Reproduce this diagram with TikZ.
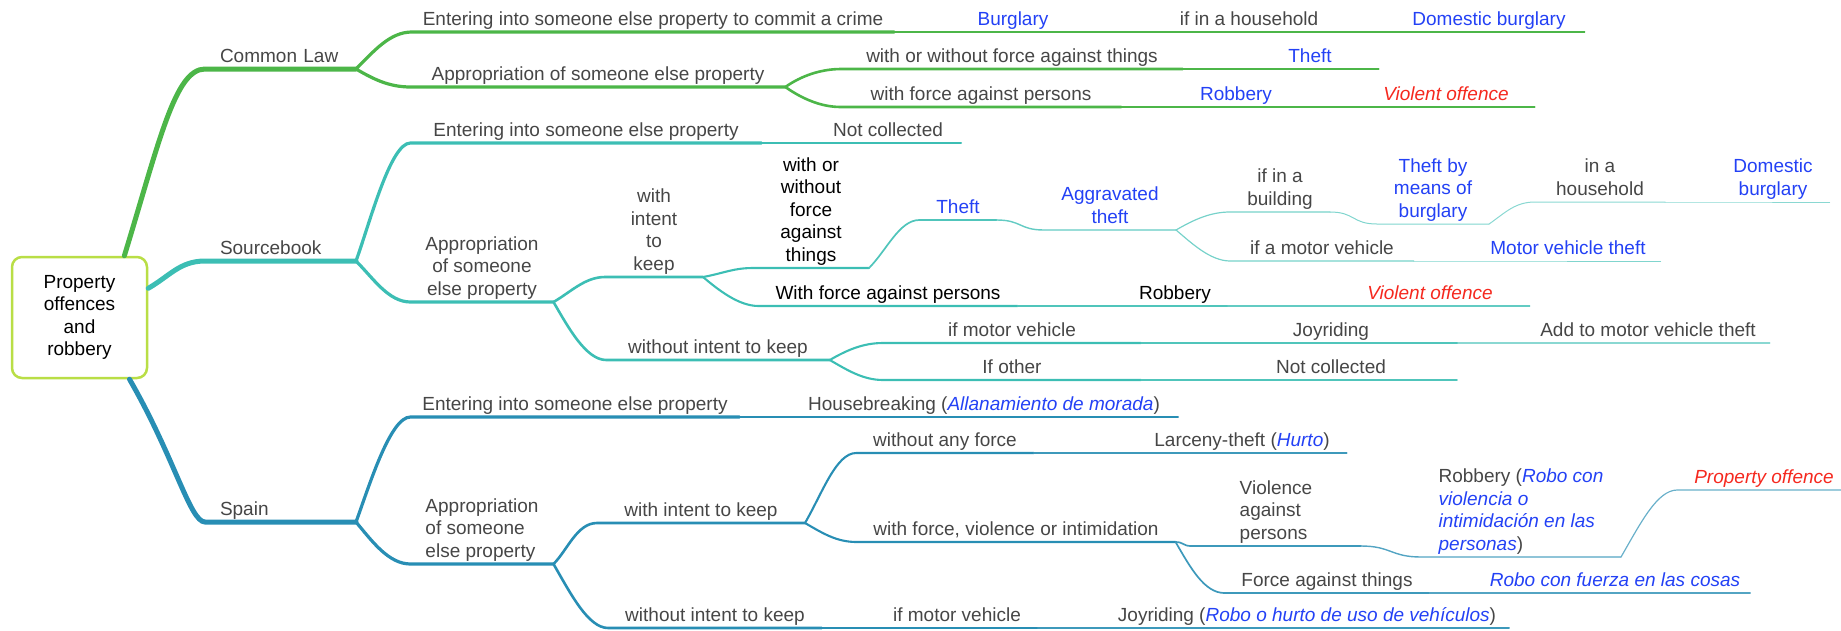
\documentclass[tikz,border=0pt]{standalone}
\usepackage{fontspec}
\setmainfont{Liberation Sans}
\usepackage{xcolor}
\usepackage{tikz}

\definecolor{clg}{RGB}{76,182,72}
\definecolor{sbt}{RGB}{60,190,180}
\definecolor{spb}{RGB}{40,142,180}
\definecolor{rootc}{RGB}{185,222,70}
\definecolor{txtgray}{RGB}{70,70,70}
\definecolor{txtblue}{RGB}{35,65,245}
\definecolor{txtred}{RGB}{245,40,30}

\newcommand{\mmfont}{\fontsize{19}{22.5}\selectfont}
\newcommand{\mlc}[1]{\begin{tabular}[b]{@{}c@{}}#1\end{tabular}}
\newcommand{\mll}[1]{\begin{tabular}[b]{@{}l@{}}#1\end{tabular}}
\newcommand{\spn}[1]{\textcolor{txtblue}{\itshape #1}}

\begin{document}
\begin{tikzpicture}[x=1pt, y=1pt, line cap=round,
  topic/.style={font=\mmfont, text=txtgray, anchor=south, inner xsep=17pt, inner ysep=0pt, outer sep=0pt, text depth=7pt},
  bluetxt/.style={topic, text=txtblue},
  blacktxt/.style={topic, text=black},
  redtxt/.style={topic, text=txtred, font=\mmfont\itshape},
  main/.style={topic, anchor=south west, text width=121pt, inner xsep=15pt, align=left},
  l0/.style={line width=5pt},
  l1/.style={line width=4.5pt},
  l2/.style={line width=3.2pt},
  l3/.style={line width=2.6pt},
  l4/.style={line width=2.1pt},
  l5/.style={line width=1.7pt},
  l6/.style={line width=1.4pt},
  l7/.style={line width=1.2pt},
  l8/.style={line width=1pt}
]
\useasboundingbox (0,0) rectangle (1841,-630);

% centre topic
\node[draw=rootc, line width=2.5pt, rounded corners=10pt, fill=white, minimum width=135pt, minimum height=121pt, align=center, font=\mmfont, text=black] (rt) at (79.5,-317.5) {Property\\offences\\and\\robbery};

% Common Law
\node[main] (cl) at (205,-69) {Common Law};
\node[topic, inner xsep=11pt] (clent) at (653,-32) {Entering into someone else property to commit a crime};
\node[bluetxt] (clburg) at (1013,-32) {Burglary};
\node[topic] (clhh) at (1249,-32) {if in a household};
\node[bluetxt, inner xsep=19pt] (cldb) at (1489,-32) {Domestic burglary};
\node[topic, inner xsep=21pt] (clapp) at (598,-87) {Appropriation of someone else property};
\node[topic, inner xsep=25pt] (clwwf) at (1012,-69) {with or without force against things};
\node[bluetxt, inner xsep=47pt] (clthe) at (1310,-69) {Theft};
\node[topic, inner xsep=30pt] (clwfp) at (981,-107) {with force against persons};
\node[bluetxt] (clrob) at (1236,-107) {Robbery};
\node[redtxt, inner xsep=26pt] (clvio) at (1446,-107) {Violent offence};

% Sourcebook
\node[main] (sb) at (205,-261) {Sourcebook};
\node[topic, inner xsep=23pt] (sbent) at (586,-143) {Entering into someone else property};
\node[topic, inner xsep=18pt] (sbnc) at (888,-143) {Not collected};
\node[topic, inner xsep=15pt] (sbapp) at (482,-302) {\mlc{Appropriation\\of someone\\else property}};
\node[topic, minimum width=98pt] (sbwik) at (654,-277) {\mlc{with\\intent\\to\\keep}};
\node[blacktxt, minimum width=116pt] (sbwwf) at (811,-268) {\mlc{with or\\without\\force\\against\\things}};
\node[bluetxt, minimum width=62pt] (sbthe) at (958,-220) {Theft};
\node[bluetxt, minimum width=132pt] (sbagg) at (1110,-230) {\mlc{Aggravated\\theft}};
\node[topic, minimum width=100pt] (sbbld) at (1280,-212) {\mlc{if in a\\building}};
\node[bluetxt, minimum width=106pt] (sbtbm) at (1433,-224) {\mlc{Theft by\\means of\\burglary}};
\node[topic, minimum width=130pt] (sbhh) at (1600,-202) {\mlc{in a\\household}};
\node[bluetxt, minimum width=104pt] (sbdb) at (1773,-202) {\mlc{Domestic\\burglary}};
\node[topic, inner xsep=20pt] (sbmv) at (1322,-261) {if a motor vehicle};
\node[bluetxt, inner xsep=15pt] (sbmvt) at (1568,-261) {Motor vehicle theft};
\node[blacktxt] (sbwfp) at (888,-306) {With force against persons};
\node[blacktxt] (sbrob) at (1175,-306) {Robbery};
\node[redtxt, inner xsep=37pt] (sbvio) at (1430,-306) {Violent offence};
\node[topic, inner xsep=22pt] (sbwok) at (718,-360) {without intent to keep};
\node[topic, minimum width=258pt] (sbimv) at (1012,-343) {if motor vehicle};
\node[topic, minimum width=254pt] (sbjoy) at (1331,-343) {Joyriding};
\node[topic, inner xsep=14pt] (sbadd) at (1648,-343) {Add to motor vehicle theft};
\node[topic, minimum width=258pt] (sbio) at (1012,-380) {If other};
\node[topic, minimum width=252pt] (sbnc2) at (1331,-380) {Not collected};

% Spain
\node[main] (sp) at (205,-522) {Spain};
\node[topic, inner xsep=12pt] (spent) at (575,-417) {Entering into someone else property};
\node[topic, inner xsep=18pt] (sphb) at (984,-417) {Housebreaking (\spn{Allanamiento de morada})};
\node[topic, inner xsep=15pt] (spapp) at (482,-564) {\mll{Appropriation\\of someone\\else property}};
\node[topic, minimum width=208pt] (spwik) at (701,-523) {with intent to keep};
\node[topic, minimum width=160pt] (spwaf) at (945,-453) {without any force};
\node[topic] (splar) at (1242,-453) {Larceny-theft (\spn{Hurto})};
\node[topic] (spfvi) at (1016,-542) {with force, violence or intimidation};
\node[topic, minimum width=170pt] (spvap) at (1276,-546) {\mll{Violence\\against\\persons}};
\node[topic, minimum width=200pt] (sprob) at (1521,-557) {\mll{Robbery (\spn{Robo con}\\\spn{violencia o}\\\spn{intimidación en las}\\\spn{personas})}};
\node[redtxt, minimum width=168pt] (spprop) at (1764,-490) {Property offence};
\node[topic, minimum width=192pt] (spfat) at (1327,-593) {Force against things};
\node[topic, text=txtblue, font=\mmfont\itshape, inner xsep=10pt] (sprcf) at (1615,-593) {Robo con fuerza en las cosas};
\node[topic] (spwok) at (715,-628) {without intent to keep};
\node[topic] (spimv) at (957,-628) {if motor vehicle};
\node[topic, inner xsep=13pt] (spjoy) at (1307,-628) {Joyriding (\spn{Robo o hurto de uso de vehículos})};

% branches of Common Law
\draw[l0, clg] (rt.54) .. controls +(73:120) and +(-30,0) .. (cl.south west) -- (cl.south east);
\draw[l2, clg] (cl.south east) .. controls +(45:25) and +(-22,0) .. (clent.south west) -- (clent.south east);
\draw[l2, clg] (cl.south east) .. controls +(-30:20) and +(-22,0) .. (clapp.south west) -- (clapp.south east);
\draw[l3, clg] (clapp.south east) .. controls +(35:20) and +(-20,0) .. (clwwf.south west) -- (clwwf.south east);
\draw[l3, clg] (clapp.south east) .. controls +(-35:20) and +(-20,0) .. (clwfp.south west) -- (clwfp.south east);

% branches of Sourcebook
\draw[l0, sbt] (rt.23) .. controls +(30:25) and +(-25,0) .. (sb.south west) -- (sb.south east);
\draw[l2, sbt] (sb.south east) .. controls +(70:40) and +(-20,0) .. (sbent.south west) -- (sbent.south east);
\draw[l2, sbt] (sb.south east) .. controls +(-45:25) and +(-22,0) .. (sbapp.south west) -- (sbapp.south east);
\draw[l3, sbt] (sbapp.south east) .. controls +(30:20) and +(-20,0) .. (sbwik.south west) -- (sbwik.south east);
\draw[l3, sbt] (sbapp.south east) .. controls +(-60:30) and +(-20,0) .. (sbwok.south west) -- (sbwok.south east);
\draw[l4, sbt] (sbwik.south east) .. controls +(10:20) and +(-20,0) .. (sbwwf.south west) -- (sbwwf.south east);
\draw[l4, sbt] (sbwik.south east) .. controls +(-40:20) and +(-20,0) .. (sbwfp.south west) -- (sbwfp.south east);
\draw[l5, sbt!90] (sbwwf.south east) .. controls +(45:25) and +(-20,0) .. (sbthe.south west) -- (sbthe.south east);
\draw[l6, sbt!80] (sbthe.south east) .. controls +(25,0) and +(-25,0) .. (sbagg.south west) -- (sbagg.south east);
\draw[l7, sbt!70] (sbagg.south east) .. controls +(30:20) and +(-20,0) .. (sbbld.south west) -- (sbbld.south east);
\draw[l7, sbt!70] (sbagg.south east) .. controls +(-40:20) and +(-20,0) .. (sbmv.south west) -- (sbmv.south east);
\draw[l8, sbt!65] (sbbld.south east) .. controls +(25,0) and +(-25,0) .. (sbtbm.south west) -- (sbtbm.south east);
\draw[l8, sbt!60] (sbtbm.south east) .. controls +(35:20) and +(-20,0) .. (sbhh.south west) -- (sbhh.south east);
\draw[l4, sbt] (sbwok.south east) .. controls +(30:20) and +(-20,0) .. (sbimv.south west) -- (sbimv.south east);
\draw[l4, sbt] (sbwok.south east) .. controls +(-30:20) and +(-20,0) .. (sbio.south west) -- (sbio.south east);

% branches of Spain
\draw[l0, spb] (rt.-51) .. controls +(-60:90) and +(-15,0) .. (sp.south west) -- (sp.south east);
\draw[l2, spb] (sp.south east) .. controls +(70:40) and +(-20,0) .. (spent.south west) -- (spent.south east);
\draw[l2, spb] (sp.south east) .. controls +(-50:25) and +(-22,0) .. (spapp.south west) -- (spapp.south east);
\draw[l3, spb] (spapp.south east) .. controls +(45:20) and +(-20,0) .. (spwik.south west) -- (spwik.south east);
\draw[l3, spb] (spapp.south east) .. controls +(-60:35) and +(-20,0) .. (spwok.south west) -- (spwok.south east);
\draw[l4, spb] (spwik.south east) .. controls +(60:35) and +(-20,0) .. (spwaf.south west) -- (spwaf.south east);
\draw[l4, spb] (spwik.south east) .. controls +(-30:20) and +(-20,0) .. (spfvi.south west) -- (spfvi.south east);
\draw[l5, spb!90] (spfvi.south east) .. controls +(8,0) and +(-8,0) .. (spvap.south west) -- (spvap.south east);
\draw[l5, spb!90] (spfvi.south east) .. controls +(-60:30) and +(-20,0) .. (spfat.south west) -- (spfat.south east);
\draw[l6, spb!80] (spvap.south east) .. controls +(30,0) and +(-30,0) .. (sprob.south west) -- (sprob.south east);
\draw[l7, spb!70] (sprob.south east) .. controls +(60:40) and +(-20,0) .. (spprop.south west) -- (spprop.south east);

% straight runs
\foreach \a/\b/\w/\c in {clent/clburg/l3/clg, clburg/clhh/l4/clg, clhh/cldb/l5/clg,
    clwwf/clthe/l4/clg, clwfp/clrob/l4/clg, clrob/clvio/l5/clg,
    sbent/sbnc/l3/sbt, sbhh/sbdb/l8/sbt!60, sbmv/sbmvt/l8/sbt!65,
    sbwfp/sbrob/l5/sbt!90, sbrob/sbvio/l6/sbt!80, sbimv/sbjoy/l5/sbt!90,
    sbjoy/sbadd/l6/sbt!60, sbio/sbnc2/l5/sbt!90,
    spent/sphb/l3/spb, spwaf/splar/l5/spb!90, spfat/sprcf/l6/spb!80,
    spwok/spimv/l4/spb, spimv/spjoy/l5/spb!90}
  \draw[\w, \c] (\a.south east) -- (\b.south west) -- (\b.south east);
\end{tikzpicture}
\end{document}
